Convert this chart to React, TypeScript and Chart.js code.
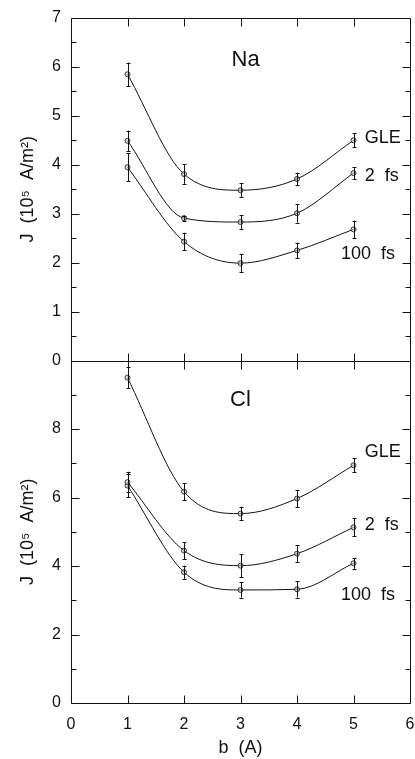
import React, { useEffect, useRef } from 'react';
import { Chart, registerables } from 'chart.js';

Chart.register(...registerables);

// ---- data ----
const bValues = [1, 2, 3, 4, 5];

const naGLE = [5.85, 3.81, 3.48, 3.71, 4.5];
const naGLEErr = [0.24, 0.2, 0.14, 0.13, 0.14];
const na2fs = [4.49, 2.91, 2.83, 3.01, 3.83];
const na2fsErr = [0.21, 0.05, 0.14, 0.19, 0.12];
const na100fs = [3.95, 2.43, 1.99, 2.25, 2.68];
const na100fsErr = [0.29, 0.18, 0.18, 0.16, 0.18];

const clGLE = [9.5, 6.17, 5.53, 5.97, 6.94];
const clGLEErr = [0.3, 0.25, 0.2, 0.25, 0.2];
const cl2fs = [6.45, 4.45, 4.01, 4.36, 5.13];
const cl2fsErr = [0.3, 0.25, 0.33, 0.24, 0.26];
const cl100fs = [6.35, 3.82, 3.3, 3.32, 4.08];
const cl100fsErr = [0.34, 0.19, 0.22, 0.24, 0.16];

const xTicks = [0, 1, 2, 3, 4, 5, 6];
const topMajorTicks = [0, 1, 2, 3, 4, 5, 6, 7];
const topMinorTicks = [0.5, 1.5, 2.5, 3.5, 4.5, 5.5, 6.5];
const botMajorTicks = [0, 2, 4, 6, 8, 10];
const botMinorTicks = [1, 3, 5, 7, 9];
const botTickLabels = ['0', '2', '4', '6', '8'];

const INK = '#111';
const FONT = "'Liberation Sans', Arial, Helvetica, sans-serif";

// annotation texts (in data coordinates of their panel)
const annotations = [
  { text: 'Na', axis: 'yTop', x: 3.09, y: 6.14, size: 22, align: 'center' },
  { text: 'GLE', axis: 'yTop', x: 5.2, y: 4.55, size: 18, align: 'left' },
  { text: '2  fs', axis: 'yTop', x: 5.2, y: 3.78, size: 18, align: 'left' },
  { text: '100  fs', axis: 'yTop', x: 4.78, y: 2.17, size: 18, align: 'left' },
  { text: 'Cl', axis: 'yBot', x: 3.0, y: 8.84, size: 22, align: 'center' },
  { text: 'GLE', axis: 'yBot', x: 5.2, y: 7.33, size: 18, align: 'left' },
  { text: '2  fs', axis: 'yBot', x: 5.2, y: 5.21, size: 18, align: 'left' },
  { text: '100  fs', axis: 'yBot', x: 4.78, y: 3.14, size: 18, align: 'left' },
];

const seriesDefs = [
  { values: naGLE, err: naGLEErr, axis: 'yTop' },
  { values: na2fs, err: na2fsErr, axis: 'yTop' },
  { values: na100fs, err: na100fsErr, axis: 'yTop' },
  { values: clGLE, err: clGLEErr, axis: 'yBot' },
  { values: cl2fs, err: cl2fsErr, axis: 'yBot' },
  { values: cl100fs, err: cl100fsErr, axis: 'yBot' },
];

const px = (v: number) => Math.round(v) + 0.5;

const framePlugin = {
  id: 'frameAndBars',
  afterDatasetsDraw(chart: any) {
    const { ctx, chartArea: a, scales } = chart;
    const x = scales.x;
    const yT = scales.yTop;
    const yB = scales.yBot;
    ctx.save();
    ctx.strokeStyle = INK;
    ctx.lineWidth = 1;

    // error bars
    seriesDefs.forEach((s) => {
      const ys = scales[s.axis];
      s.values.forEach((v, j) => {
        const cx = px(x.getPixelForValue(bValues[j]));
        const t = ys.getPixelForValue(v + s.err[j]);
        const b = ys.getPixelForValue(v - s.err[j]);
        ctx.beginPath();
        ctx.moveTo(cx, t);
        ctx.lineTo(cx, b);
        ctx.moveTo(cx - 2, px(t));
        ctx.lineTo(cx + 2, px(t));
        ctx.moveTo(cx - 2, px(b));
        ctx.lineTo(cx + 2, px(b));
        ctx.stroke();
      });
    });

    // frames
    const L = px(a.left);
    const R = px(a.right);
    const T = px(yT.top);
    const M = px(yT.bottom);
    const B = px(yB.bottom);
    ctx.beginPath();
    ctx.moveTo(L, T); ctx.lineTo(R, T); ctx.lineTo(R, B); ctx.lineTo(L, B); ctx.closePath();
    ctx.moveTo(L, M); ctx.lineTo(R, M);
    ctx.stroke();

    const major = 8;
    const minor = 5;
    ctx.beginPath();
    xTicks.forEach((v) => {
      if (v === x.min || v === x.max) return;
      const p = px(x.getPixelForValue(v));
      ctx.moveTo(p, T); ctx.lineTo(p, T + major);
      ctx.moveTo(p, M - major); ctx.lineTo(p, M + major);
      ctx.moveTo(p, B); ctx.lineTo(p, B - major);
    });
    const yTicks = (scale: any, list: number[], len: number) => {
      list.forEach((v) => {
        const p = px(scale.getPixelForValue(v));
        ctx.moveTo(L, p); ctx.lineTo(L + len, p);
        ctx.moveTo(R, p); ctx.lineTo(R - len, p);
      });
    };
    yTicks(yT, topMajorTicks, major);
    yTicks(yT, topMinorTicks, minor);
    yTicks(yB, botMajorTicks, major);
    yTicks(yB, botMinorTicks, minor);
    ctx.stroke();

    // annotations
    ctx.fillStyle = INK;
    ctx.textBaseline = 'middle';
    annotations.forEach((an) => {
      ctx.font = `${an.size}px ${FONT}`;
      ctx.textAlign = an.align as CanvasTextAlign;
      ctx.fillText(an.text, x.getPixelForValue(an.x), scales[an.axis].getPixelForValue(an.y));
    });
    ctx.restore();
  },
};

export default function App() {
  const ref = useRef<HTMLCanvasElement | null>(null);

  useEffect(() => {
    if (!ref.current) return;
    const tickFont = { family: FONT, size: 16 };
    const titleFont = { family: FONT, size: 18 };

    const datasets = seriesDefs.map((s) => ({
      data: s.values.map((v, i) => ({ x: bValues[i], y: v })),
      yAxisID: s.axis,
      borderColor: INK,
      borderWidth: 1,
      cubicInterpolationMode: 'monotone',
      pointRadius: 2.5,
      pointBorderWidth: 1,
      pointBorderColor: '#333',
      pointBackgroundColor: 'rgba(200,200,200,0.6)',
      fill: false,
    }));

    const chart = new Chart(ref.current, {
      type: 'line',
      data: { datasets },
      plugins: [framePlugin],
      options: {
        animation: false,
        responsive: false,
        devicePixelRatio: 1,
        layout: { padding: { top: 18, left: 0, right: 0, bottom: 0 } },
        plugins: { legend: { display: false }, tooltip: { enabled: false } },
        scales: {
          x: {
            type: 'linear',
            position: 'bottom',
            min: 0,
            max: 6,
            grid: { display: false, drawTicks: false },
            border: { display: false },
            ticks: { stepSize: 1, font: tickFont, color: INK, padding: 12, maxRotation: 0, autoSkip: false },
            title: { display: true, text: 'b  (A)', font: titleFont, color: INK, padding: { top: 0, bottom: 0 } },
            afterFit: (s: any) => {
              s.height = 56;
              s.paddingLeft = 0;
              s.paddingRight = 2.5;
            },
          },
          yBot: {
            type: 'linear',
            position: 'left',
            stack: 'j',
            stackWeight: 1,
            min: 0,
            max: 10,
            grid: { display: false, drawTicks: false },
            border: { display: false },
            afterBuildTicks: (s: any) => {
              s.ticks = botMajorTicks.map((v) => ({ value: v }));
            },
            ticks: {
              font: tickFont,
              color: INK,
              padding: 10,
              callback: (v: any) => {
                const i = botMajorTicks.indexOf(Number(v));
                return i >= 0 && i < botTickLabels.length ? botTickLabels[i] : '';
              },
            },
            title: { display: true, text: 'J  (10\u2075  A/m\u00B2)', font: titleFont, color: INK, padding: { top: 17, bottom: 0 } },
            afterFit: (s: any) => {
              s.width = 71;
              s.paddingTop = 0;
              s.paddingBottom = 0;
            },
          },
          yTop: {
            type: 'linear',
            position: 'left',
            stack: 'j',
            stackWeight: 1,
            min: 0,
            max: 7,
            grid: { display: false, drawTicks: false },
            border: { display: false },
            afterBuildTicks: (s: any) => {
              s.ticks = topMajorTicks.map((v) => ({ value: v }));
            },
            ticks: { font: tickFont, color: INK, padding: 10 },
            title: { display: true, text: 'J  (10\u2075  A/m\u00B2)', font: titleFont, color: INK, padding: { top: 17, bottom: 0 } },
            afterFit: (s: any) => {
              s.width = 71;
              s.paddingTop = 0;
              s.paddingBottom = 0;
            },
          },
        },
      } as any,
    });
    return () => chart.destroy();
  }, []);

  return (
    <div style={{ position: 'fixed', left: 0, top: 0, width: 415, height: 759, background: '#fff' }}>
      <canvas ref={ref} width={415} height={759} style={{ display: 'block' }} />
    </div>
  );
}
